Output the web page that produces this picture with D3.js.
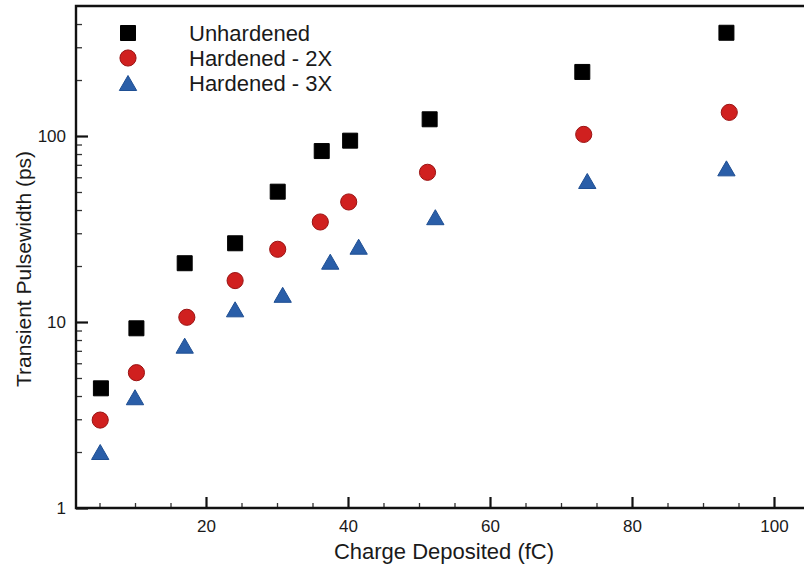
<!DOCTYPE html>
<html>
<head>
<meta charset="utf-8">
<script src="https://cdn.jsdelivr.net/npm/d3@7"></script>
<style>
  html, body { margin: 0; padding: 0; background: #fff; }
  svg { display: block; }
  text { font-family: "Liberation Sans", Arial, Helvetica, sans-serif; fill: #1a1a1a; }
</style>
</head>
<body>
<svg id="chart" width="804" height="569"></svg>
<script>
// ---- data ----
const seriesNames = ["Unhardened", "Hardened - 2X", "Hardened - 3X"];
const xUnhardened = [5.2, 10.2, 17.0, 24.1, 30.1, 36.3, 40.3, 51.5, 73.0, 93.3];
const yUnhardened = [4.4, 9.25, 20.7, 26.5, 50.2, 83, 94.4, 123, 221, 359];
const xHardened2X = [5.1, 10.2, 17.3, 24.1, 30.1, 36.1, 40.1, 51.2, 73.2, 93.7];
const yHardened2X = [2.97, 5.34, 10.6, 16.7, 24.6, 34.5, 44.2, 63.8, 102, 134];
const xHardened3X = [5.1, 10.0, 17.0, 24.1, 30.8, 37.5, 41.5, 52.3, 73.7, 93.3];
const yHardened3X = [2.0, 3.94, 7.46, 11.7, 14.0, 21.1, 25.4, 36.6, 57.3, 67.0];
const xMajorTicks = [20, 40, 60, 80, 100];
const xMinorTicks = [5, 10, 15, 25, 30, 35, 45, 50, 55, 65, 70, 75, 85, 90, 95];
const yMajorTicks = [1, 10, 100];
const yMinorTicks = [2, 3, 4, 5, 6, 7, 8, 9, 20, 30, 40, 50, 60, 70, 80, 90, 200, 300, 400];
const xTitle = "Charge Deposited (fC)";
const yTitle = "Transient Pulsewidth (ps)";

// ---- layout ----
const svg = d3.select("#chart");
const plotLeft = 76, plotTop = 6, plotBottom = 508;
const x = d3.scaleLinear().domain([0, 105]).range([64, 809.5]);
const y = d3.scaleLog().domain([1, 500]).range([plotBottom, plotTop]);

// custom triangle with bbox centered at origin
const triBox = {
  draw(ctx, size) {
    const s = Math.sqrt(size);       // side
    const h = s * Math.sqrt(3) / 2;
    ctx.moveTo(0, -h / 2);
    ctx.lineTo(s / 2, h / 2);
    ctx.lineTo(-s / 2, h / 2);
    ctx.closePath();
  }
};
const styles = [
  { type: d3.symbolSquare, size: 225, fill: "#000000", stroke: "#000000" },
  { type: d3.symbolCircle, size: 205, fill: "#d0201f", stroke: "#9a1212" },
  { type: triBox, size: 300, fill: "#2a5ea8", stroke: "#1f4f93" }
];
const series = [
  xUnhardened.map((v, i) => [v, yUnhardened[i]]),
  xHardened2X.map((v, i) => [v, yHardened2X[i]]),
  xHardened3X.map((v, i) => [v, yHardened3X[i]])
];

// ---- axes (ticks pointing inward) ----
const gx = svg.append("g").attr("transform", `translate(0,${plotBottom})`);
gx.call(d3.axisTop(x).tickValues(xMajorTicks).tickSize(11).tickFormat(""))
  .call(g => g.select(".domain").remove())
  .call(g => g.selectAll("line").attr("stroke", "#111").attr("stroke-width", 2.2));
gx.append("g").call(d3.axisTop(x).tickValues(xMinorTicks).tickSize(5).tickFormat(""))
  .call(g => g.select(".domain").remove())
  .call(g => g.selectAll("line").attr("stroke", "#333").attr("stroke-width", 1.3));
gx.append("g").call(d3.axisBottom(x).tickValues(xMajorTicks).tickSize(0).tickPadding(12).tickFormat(d3.format("d")))
  .call(g => g.select(".domain").remove())
  .call(g => g.selectAll("text").attr("font-size", 17).attr("font-family", "Liberation Sans, Arial, sans-serif").attr("fill", "#1a1a1a"));

const gy = svg.append("g").attr("transform", `translate(${plotLeft},0)`);
gy.call(d3.axisRight(y).tickValues(yMajorTicks).tickSize(12).tickFormat(""))
  .call(g => g.select(".domain").remove())
  .call(g => g.selectAll("line").attr("stroke", "#111").attr("stroke-width", 2.2));
gy.append("g").call(d3.axisRight(y).tickValues(yMinorTicks).tickSize(6).tickFormat(""))
  .call(g => g.select(".domain").remove())
  .call(g => g.selectAll("line").attr("stroke", "#333").attr("stroke-width", 1.3));
gy.append("g").call(d3.axisLeft(y).tickValues(yMajorTicks).tickSize(0).tickPadding(10).tickFormat(d3.format("d")))
  .call(g => g.select(".domain").remove())
  .call(g => g.selectAll("text").attr("font-size", 17).attr("font-family", "Liberation Sans, Arial, sans-serif").attr("fill", "#1a1a1a"));

// frame (right side is cut off in the reference)
svg.append("path")
  .attr("d", `M${x.range()[1] + 2},${plotTop} H${plotLeft} V${plotBottom} H${x.range()[1] + 2}`)
  .attr("fill", "none").attr("stroke", "#111").attr("stroke-width", 2.4);

// ---- points ----
series.forEach((pts, k) => {
  const st = styles[k];
  const sym = d3.symbol().type(st.type).size(st.size);
  svg.append("g").selectAll("path").data(pts).join("path")
    .attr("d", sym)
    .attr("transform", d => `translate(${x(d[0])},${y(d[1])})`)
    .attr("fill", st.fill).attr("stroke", st.stroke).attr("stroke-width", 1);
});

// ---- legend ----
const legend = svg.append("g");
const legY = [33, 58, 83];
seriesNames.forEach((name, k) => {
  const st = styles[k];
  legend.append("path")
    .attr("d", d3.symbol().type(st.type).size(st.size)())
    .attr("transform", `translate(128,${legY[k]})`)
    .attr("fill", st.fill).attr("stroke", st.stroke).attr("stroke-width", 1);
  legend.append("text")
    .attr("x", 189).attr("y", legY[k] + 8)
    .attr("font-size", 22)
    .text(name);
});

// ---- titles ----
svg.append("text")
  .attr("x", 444).attr("y", 559)
  .attr("text-anchor", "middle").attr("font-size", 22)
  .text(xTitle);
svg.append("text")
  .attr("transform", "translate(31,269) rotate(-90)")
  .attr("text-anchor", "middle").attr("font-size", 21)
  .text(yTitle);
</script>
</body>
</html>
